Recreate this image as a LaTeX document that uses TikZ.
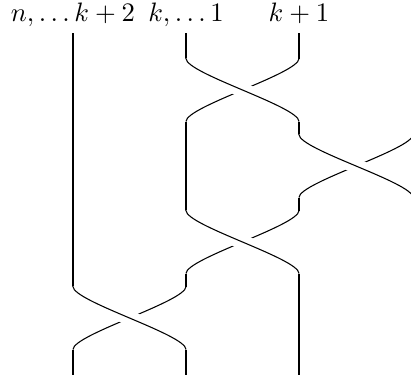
\documentclass[tikz,border=0pt]{standalone}
\begin{document}
\begin{tikzpicture}[x=0.375pt,y=-0.375pt,line width=0.4pt,
  strand/.style={draw=black},
  overstrand/.style={draw=black,preaction={draw=white,line width=5.5pt}},
  lbl/.style={anchor=base,inner sep=0pt}]
\useasboundingbox (0,0) rectangle (411,375);
% strand positions
\def\Xa{73}\def\Xb{186}\def\Xc{299}\def\Xd{413}
% labels
\node[lbl] (l1) at (\Xa,21) {$n,\ldots k+2$};
\node[lbl] (l2) at (\Xb,21) {$k,\ldots 1$};
\node[lbl] (l3) at (\Xc,21) {$k+1$};
% vertical segments
\draw[strand] (\Xa,33) -- (\Xa,286.5) (\Xa,349.5) -- (\Xa,375);
\draw[strand] (\Xb,33) -- (\Xb,58.5) (\Xb,121.5) -- (\Xb,210.5) (\Xb,273.5) -- (\Xb,286.5) (\Xb,349.5) -- (\Xb,375);
\draw[strand] (\Xc,33) -- (\Xc,58.5) (\Xc,121.5) -- (\Xc,134.5) (\Xc,197.5) -- (\Xc,210.5) (\Xc,273.5) -- (\Xc,375);
\draw[strand] (\Xd,33) -- (\Xd,134.5) (\Xd,197.5) -- (\Xd,375);
% crossing 1 (positions 2,3)
\draw[strand] (\Xc,58.5) .. controls +(0,15) and +(0,-15) .. (\Xb,121.5);
\draw[overstrand] (\Xb,58.5) .. controls +(0,15) and +(0,-15) .. (\Xc,121.5);
% crossing 2 (positions 3,4)
\draw[strand] (\Xd,134.5) .. controls +(0,15) and +(0,-15) .. (\Xc,197.5);
\draw[overstrand] (\Xc,134.5) .. controls +(0,15) and +(0,-15) .. (\Xd,197.5);
% crossing 3 (positions 2,3)
\draw[strand] (\Xc,210.5) .. controls +(0,15) and +(0,-15) .. (\Xb,273.5);
\draw[overstrand] (\Xb,210.5) .. controls +(0,15) and +(0,-15) .. (\Xc,273.5);
% crossing 4 (positions 1,2)
\draw[strand] (\Xb,286.5) .. controls +(0,15) and +(0,-15) .. (\Xa,349.5);
\draw[overstrand] (\Xa,286.5) .. controls +(0,15) and +(0,-15) .. (\Xb,349.5);
\end{tikzpicture}
\end{document}
